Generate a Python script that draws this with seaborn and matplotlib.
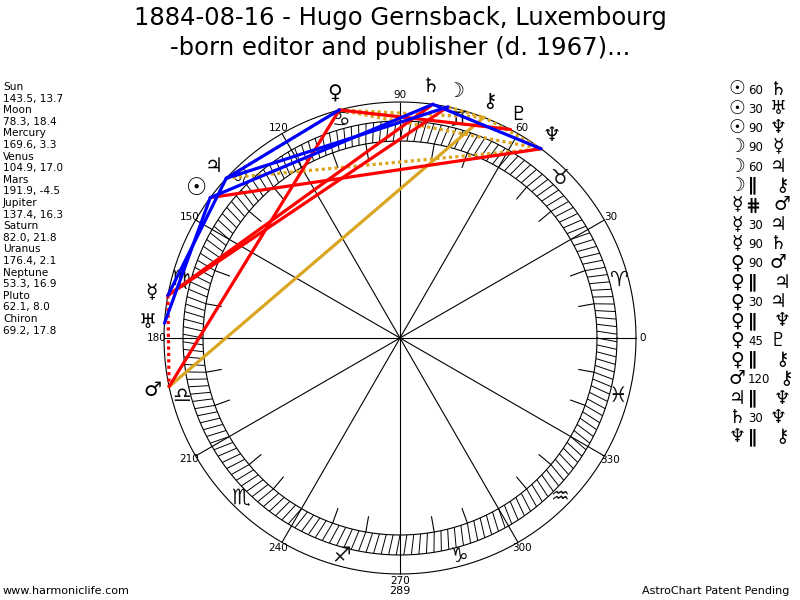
import numpy as np
import pandas as pd
import matplotlib
matplotlib.use("Agg")
import matplotlib.pyplot as plt
from matplotlib.collections import LineCollection
import seaborn as sns

# ---------------- data ----------------
planets = ["Sun", "Moon", "Mercury", "Venus", "Mars", "Jupiter",
           "Saturn", "Uranus", "Neptune", "Pluto", "Chiron"]
planet_glyphs = ["☉", "☽", "☿", "♀", "♂", "♃", "♄", "♅", "♆", "♇", "⚷"]
longitudes = [143.5, 78.3, 169.6, 104.9, 191.9, 137.4, 82.0, 176.4, 53.3, 62.1, 69.2]
declinations = [13.7, 18.4, 3.3, 17.0, -4.5, 16.3, 21.8, 2.1, 16.9, 8.0, 17.8]

aspect_from = ["Sun", "Sun", "Sun", "Moon", "Moon", "Moon", "Mercury", "Mercury",
               "Mercury", "Venus", "Venus", "Venus", "Venus", "Venus", "Venus",
               "Mars", "Jupiter", "Saturn", "Neptune"]
aspect_kind = ["60", "30", "90", "90", "60", "∥", "⋕", "30", "90", "90", "∥",
               "30", "∥", "45", "∥", "120", "∥", "30", "∥"]
aspect_to = ["Saturn", "Uranus", "Neptune", "Mercury", "Jupiter", "Chiron", "Mars",
             "Jupiter", "Saturn", "Mars", "Jupiter", "Jupiter", "Neptune", "Pluto",
             "Chiron", "Chiron", "Neptune", "Neptune", "Chiron"]

sign_glyphs = ["♈", "♉", "♊", "♋", "♌", "♍", "♎", "♏", "♐", "♑", "♒", "♓"]
degree_labels = [0, 30, 60, 90, 120, 150, 180, 210, 240, 270, 300, 330]

title_lines = ["1884-08-16 - Hugo Gernsback, Luxembourg",
               "-born editor and publisher (d. 1967)..."]
bottom_value = "289"
footer_left = "www.harmoniclife.com"
footer_right = "AstroChart Patent Pending"

# ---------------- styling ----------------
sns.set_theme(style="white")
plt.rcParams['font.family'] = ['DejaVu Sans']

aspect_style = {
    "30": ("#0000ff", "-"), "60": ("#0000ff", "-"),
    "90": ("#ff0000", "-"), "45": ("#ff0000", "-"),
    "120": ("#daa520", "-"),
    "∥": ("#daa520", (0, (1, 1))),
    "⋕": ("#ff0000", (0, (1, 1))),
}

CX, CY = 400, 338
R_OUT, R_RING_OUT, R_RING_IN, R_TICK_IN = 236, 217, 197, 181
R_LABEL, R_SIGN, R_PLANET = 243, 226, 253
MIN_SEP = 5.6  # minimum angular spacing of planet glyphs


def pol(theta, r):
    t = np.deg2rad(theta)
    return CX + r * np.cos(t), CY - r * np.sin(t)


def spread(angles, min_sep):
    """Push glyph angles apart so neighbours do not collide."""
    idx = np.argsort(angles)
    a = np.array(angles, dtype=float)[idx]
    for _ in range(50):
        moved = False
        for j in range(len(a) - 1):
            gap = a[j + 1] - a[j]
            if gap < min_sep:
                shift = (min_sep - gap) / 2
                a[j] -= shift
                a[j + 1] += shift
                moved = True
        if not moved:
            break
    out = np.empty_like(a)
    out[idx] = a
    return out


fig = plt.figure(figsize=(8, 6), dpi=100)
ax = fig.add_axes([0, 0, 1, 1])
ax.set_xlim(0, 800)
ax.set_ylim(600, 0)
ax.set_aspect("equal")
ax.axis("off")

# circles
tt = np.linspace(0, 360, 721)
for r in (R_OUT, R_RING_OUT, R_RING_IN):
    x, y = pol(tt, r)
    ax.plot(x, y, color="black", lw=0.8, zorder=2)

# ring ticks every 2 degrees (slightly slanted)
segs = []
for d in np.arange(0, 360, 2):
    x0, y0 = pol(d, R_RING_IN)
    x1, y1 = pol(d - 1.0, R_RING_OUT)
    segs.append([(x0, y0), (x1, y1)])
ax.add_collection(LineCollection(segs, colors="black", linewidths=0.7, zorder=2))

# 10 degree ticks and 30 degree spokes
segs = []
for d in range(0, 360, 10):
    if d % 30 == 0:
        x1, y1 = pol(d, R_OUT)
        segs.append([(CX, CY), (x1, y1)])
    else:
        x0, y0 = pol(d, R_TICK_IN)
        x1, y1 = pol(d, R_RING_IN)
        segs.append([(x0, y0), (x1, y1)])
ax.add_collection(LineCollection(segs, colors="black", linewidths=0.8, zorder=2))

# degree labels
for d in degree_labels:
    x, y = pol(d, R_LABEL)
    ax.text(x, y, str(d), fontsize=7.5, ha="center", va="center", color="black", zorder=3)
ax.text(CX, 591, bottom_value, fontsize=8, ha="center", va="center", color="black")

# sign glyphs
for i, g in enumerate(sign_glyphs):
    x, y = pol(15 + 30 * i, R_SIGN)
    ax.text(x, y, g, fontsize=15, ha="center", va="center", color="#111111", zorder=3)

# aspect lines
lon = dict(zip(planets, longitudes))
rows = []
for i, (a, k, b) in enumerate(zip(aspect_from, aspect_kind, aspect_to)):
    for p in (a, b):
        x, y = pol(lon[p], R_OUT)
        rows.append({"aspect": i, "kind": k, "x": x, "y": y})
df = pd.DataFrame(rows)
order = ["∥", "⋕", "120", "90", "45", "60", "30"]
for kind in order:
    sub = df[df["kind"] == kind]
    if sub.empty:
        continue
    col, ls = aspect_style[kind]
    sns.lineplot(data=sub, x="x", y="y", units="aspect", estimator=None, sort=False,
                 color=col, linestyle=ls, lw=2.3, ax=ax, legend=False, zorder=4)

# planet glyphs
glyph_angles = spread(longitudes, MIN_SEP)
for g, l in zip(planet_glyphs, glyph_angles):
    x, y = pol(l, R_PLANET)
    fs = 17 if g == "☉" else 14.5
    ax.text(x, y, g, fontsize=fs, ha="center", va="center", color="black", zorder=5,
            fontweight="bold" if g == "☉" else "normal")

# left data panel
lines = []
for p, l, dcl in zip(planets, longitudes, declinations):
    lines.append(p)
    lines.append(f"{l:.1f}, {dcl:.1f}")
for i, s in enumerate(lines):
    ax.text(3, 87 + i * 11.6, s, fontsize=7.6, ha="left", va="center", color="black")

# right aspect legend
gl = dict(zip(planets, planet_glyphs))
for i, (a, k, b) in enumerate(zip(aspect_from, aspect_kind, aspect_to)):
    y = 89 + i * 19.33
    ax.text(737, y, gl[a], fontsize=13.5, ha="center", va="center", color="black",
            fontweight="bold" if a == "Sun" else "normal")
    if k in ("∥", "⋕"):
        ax.text(753, y, k, fontsize=13, ha="center", va="center", color="black",
                fontweight="bold")
        x2 = 782
    else:
        ax.text(748, y + 1, k, fontsize=8.5, ha="left", va="center", color="black")
        x2 = 778 if len(k) == 2 else 786
    ax.text(x2, y, gl[b], fontsize=13.5, ha="center", va="center", color="black")

# title and footers
ax.text(400, 18, title_lines[0], fontsize=17.5, ha="center", va="center", color="black")
ax.text(400, 48, title_lines[1], fontsize=17.5, ha="center", va="center", color="black")
ax.text(3, 591, footer_left, fontsize=8, ha="left", va="center", color="black")
ax.text(789, 591, footer_right, fontsize=8, ha="right", va="center", color="black")

ax.set_xlim(0, 800)
ax.set_ylim(600, 0)
ax.set_xlabel("")
ax.set_ylabel("")
fig.savefig("out.png", dpi=100, facecolor="white")
